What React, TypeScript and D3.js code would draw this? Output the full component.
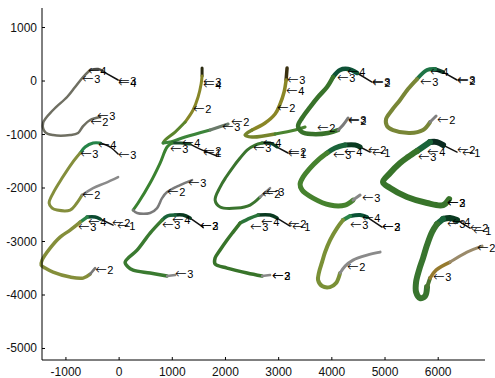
import React from "react";
import * as d3 from "d3";

const xTicks = [-1000, 0, 1000, 2000, 3000, 4000, 5000, 6000];
const yTicks = [1000, 0, -1000, -2000, -3000, -4000, -5000];

const curve1 = [[-19,19],[-282,168],[-395,224],[-545,206],[-677,75],[-827,-112],[-978,-299],[-1241,-542],[-1429,-785],[-1391,-954],[-1241,-1010],[-921,-1010],[-771,-972],[-677,-842],[-545,-729],[-357,-673]];
const curve2 = [[1560,243],[1560,94],[1542,-56],[1485,-299],[1391,-542],[1241,-767],[1053,-954],[865,-1103],[827,-1159],[959,-1141],[1241,-1047],[1711,-916],[2049,-804]];
const curve3 = [[3158,243],[3140,19],[3102,-206],[3027,-430],[2933,-617],[2745,-785],[2500,-916],[2369,-1010],[2500,-1047],[2933,-991],[3309,-916],[3497,-860]];
const curve4 = [[4756,-19],[4474,150],[4305,224],[4155,206],[4023,75],[3910,-112],[3741,-299],[3591,-486],[3440,-692],[3365,-842],[3440,-954],[3628,-991],[3929,-972],[4117,-916],[4211,-823],[4305,-692]];
const curve5 = [[6354,19],[6091,168],[5941,224],[5790,206],[5602,37],[5433,-150],[5283,-355],[5132,-542],[5020,-711],[5038,-842],[5151,-916],[5471,-972],[5715,-916],[5847,-767],[5960,-655]];
const curve6 = [[-19,-1365],[-169,-1234],[-357,-1159],[-489,-1159],[-639,-1234],[-733,-1346],[-884,-1533],[-1072,-1814],[-1241,-2094],[-1316,-2281],[-1260,-2375],[-1166,-2412],[-921,-2412],[-808,-2300],[-696,-2132],[-489,-2001],[-263,-1907],[-19,-1795]];
const curve7 = [[1842,-1402],[1523,-1272],[1335,-1178],[1147,-1159],[996,-1159],[902,-1234],[771,-1533],[583,-1907],[357,-2281],[263,-2412],[338,-2468],[583,-2468],[714,-2375],[808,-2188],[902,-2076],[1147,-1945],[1372,-1851]];
const curve8 = [[3177,-1346],[2970,-1234],[2839,-1159],[2688,-1159],[2557,-1197],[2406,-1290],[2275,-1440],[2143,-1608],[2012,-1795],[1899,-1982],[1805,-2225],[1899,-2356],[2218,-2375],[2463,-2319],[2651,-2169],[2839,-2001]];
const curve9 = [[4719,-1328],[4531,-1234],[4437,-1197],[4249,-1197],[4061,-1253],[3910,-1346],[3741,-1477],[3591,-1627],[3459,-1795],[3403,-1926],[3440,-2038],[3647,-2188],[3967,-2319],[4249,-2319],[4399,-2225],[4531,-2132]];
const curve10 = [[6354,-1328],[6091,-1197],[5978,-1141],[5847,-1141],[5602,-1309],[5433,-1421],[5283,-1533],[5095,-1720],[4963,-1889],[5095,-2001],[5414,-2169],[5790,-2281],[6091,-2319],[6204,-2207]];
const curve11 = [[-113,-2693],[-357,-2580],[-451,-2543],[-602,-2543],[-733,-2637],[-921,-2787],[-1109,-2917],[-1297,-3123],[-1448,-3347],[-1466,-3440],[-1391,-3497],[-1241,-3572],[-921,-3665],[-677,-3684],[-545,-3609],[-451,-3497]];
const curve12 = [[1579,-2730],[1335,-2562],[1203,-2506],[1053,-2506],[902,-2525],[808,-2600],[583,-2842],[338,-3160],[169,-3310],[113,-3385],[169,-3478],[263,-3534],[583,-3590],[902,-3646],[1053,-3628]];
const curve13 = [[3215,-2711],[2970,-2562],[2839,-2506],[2613,-2506],[2463,-2562],[2275,-2655],[2143,-2824],[2030,-2973],[1899,-3160],[1805,-3310],[1805,-3422],[2030,-3497],[2406,-3590],[2688,-3646],[2839,-3628]];
const curve14 = [[4944,-2730],[4662,-2543],[4531,-2506],[4343,-2525],[4211,-2600],[4098,-2749],[3967,-2973],[3873,-3198],[3816,-3385],[3760,-3572],[3741,-3721],[3816,-3833],[3967,-3852],[4080,-3777],[4155,-3590],[4249,-3460],[4399,-3347],[4662,-3254],[4907,-3198]];
const curve15 = [[6599,-2749],[6354,-2600],[6223,-2562],[6091,-2580],[5978,-2674],[5884,-2824],[5790,-3066],[5715,-3310],[5640,-3534],[5584,-3759],[5584,-3946],[5659,-4058],[5753,-4021],[5790,-3852],[5847,-3684],[5960,-3534],[6223,-3385],[6542,-3198],[6824,-3085]];

const labels1 = [[-19,0,"3"],[-19,-37,"4"],[-583,187,"4"],[-696,37,"3"],[-545,-767,"2"],[-414,-655,"3"]];
const labels2 = [[1579,-19,"3"],[1579,-75,"4"],[1391,-524,"2"],[1936,-860,"3"],[2106,-767,"2"]];
const labels3 = [[3158,19,"3"],[3140,-187,"4"],[2970,-505,"2"]];
const labels4 = [[4098,56,"3"],[4286,168,"4"],[4756,-19,"3"],[4756,-37,"2"],[3722,-879,"2"],[4305,-729,"3"],[4305,-748,"2"]];
const labels5 = [[5659,-19,"3"],[5847,168,"4"],[6354,19,"3"],[6354,0,"2"],[5978,-729,"2"]];
const labels6 = [[-733,-1365,"3"],[-395,-1197,"4"],[-19,-1384,"3"],[-696,-2132,"2"]];
const labels7 = [[959,-1272,"3"],[1184,-1159,"4"],[1579,-1309,"2"],[1579,-1346,"1"],[902,-2076,"2"],[1297,-1907,"3"]];
const labels8 = [[2519,-1253,"3"],[2707,-1159,"4"],[3177,-1328,"2"],[3177,-1365,"1"],[2688,-2113,"2"],[2764,-2076,"3"]];
const labels9 = [[4023,-1384,"3"],[4230,-1328,"4"],[4681,-1290,"2"],[4756,-1346,"1"],[4568,-2188,"3"]];
const labels10 = [[5621,-1421,"3"],[5790,-1328,"4"],[6354,-1290,"2"],[6448,-1346,"1"],[6166,-2281,"3"],[6166,-2281,"2"]];
const labels11 = [[-771,-2730,"3"],[-583,-2637,"4"],[-132,-2655,"2"],[-38,-2711,"1"],[-451,-3534,"2"]];
const labels12 = [[808,-2693,"3"],[996,-2600,"4"],[1523,-2711,"3"],[1523,-2711,"2"],[1053,-3609,"3"]];
const labels13 = [[2463,-2730,"3"],[2670,-2637,"4"],[3177,-2674,"2"],[3252,-2730,"1"],[2876,-3646,"3"],[2876,-3646,"2"]];
const labels14 = [[4343,-2693,"3"],[4568,-2562,"4"],[4944,-2730,"3"],[4944,-2730,"2"],[4286,-3478,"2"]];
const labels15 = [[6166,-2674,"3"],[6260,-2637,"4"],[6599,-2749,"2"],[6655,-2805,"1"],[5903,-3665,"3"],[6730,-3123,"2"]];

const curves = [curve1, curve2, curve3, curve4, curve5, curve6, curve7, curve8, curve9, curve10, curve11, curve12, curve13, curve14, curve15];
const labels = [labels1, labels2, labels3, labels4, labels5, labels6, labels7, labels8, labels9, labels10, labels11, labels12, labels13, labels14, labels15];

// segment styles: [fromIndex, toIndex, color, width]
const segStyles: [number, number, string, number][][] = [
  [[0,1,"#111",1.5],[1,3,"#4a4a44",2.5],[3,15,"#6f6f62",2.5]],
  [[0,1,"#2a2a10",3],[1,5,"#878628",3],[5,8,"#5a842c",3],[8,11,"#3c843a",3],[11,12,"#6a7a6a",3]],
  [[0,1,"#3a3010",3.5],[1,6,"#8a8626",3.5],[6,9,"#76842c",3.5],[9,11,"#4a8430",3]],
  [[0,1,"#111",1.5],[1,4,"#0e5236",4.5],[4,13,"#38722a",4.5],[13,15,"#7a7a7a",3]],
  [[0,1,"#111",1.5],[1,2,"#0e3a2a",4],[2,4,"#1e7446",4],[4,13,"#788636",4],[13,14,"#808080",3]],
  [[0,2,"#111",1.5],[2,5,"#258448",3],[5,14,"#848e3c",3],[14,17,"#8a8a8a",2.5]],
  [[0,2,"#111",1.5],[2,4,"#1a4a2a",3],[4,9,"#3a8230",3],[9,16,"#7a7a7a",2.5]],
  [[0,1,"#111",1.5],[1,3,"#0a3a20",3],[3,14,"#3a742e",3],[14,15,"#888",2.5]],
  [[0,1,"#111",1.5],[1,3,"#0a3a20",5],[3,5,"#1a643a",5],[5,14,"#46822e",5],[14,15,"#888",3]],
  [[0,1,"#111",1.5],[1,3,"#0a2a20",6],[3,4,"#1a643a",6],[4,13,"#38742a",6]],
  [[0,1,"#111",1.5],[1,3,"#0a4a30",3.5],[3,4,"#2a8448",3.5],[4,14,"#848e3a",3.5],[14,15,"#777",2.5]],
  [[0,1,"#111",1.5],[1,3,"#0a3a20",3.5],[3,5,"#1a643a",3.5],[5,13,"#3a7a30",3.5],[13,14,"#888",2.5]],
  [[0,1,"#111",1.5],[1,3,"#0a3a20",3.5],[3,5,"#2a743a",3.5],[5,13,"#38742a",3.5],[13,14,"#888",2.5]],
  [[0,1,"#111",1.5],[1,3,"#0a5236",4],[3,4,"#2a8448",4],[4,14,"#7a9036",4],[14,18,"#8a8a8a",3]],
  [[0,1,"#111",1.5],[1,3,"#0a3a20",6],[3,4,"#1a643a",6],[4,13,"#38742e",6],[13,14,"#4a7430",4],[14,16,"#967a2e",3.5],[16,18,"#9a8a6a",3]],
];

const W = 495;
const H = 378;
const font = "'Liberation Sans', Arial, Helvetica, sans-serif";

export default function App() {
  const xs = d3.scaleLinear().domain([-1450, 6880]).range([42, 485]);
  const ys = d3.scaleLinear().domain([1365, -5215]).range([8, 360]);
  const line = d3
    .line<number[]>()
    .x((d) => xs(d[0]))
    .y((d) => ys(d[1]))
    .curve(d3.curveCatmullRom.alpha(0.5));

  return (
    <svg
      width={W}
      height={H}
      style={{ position: "absolute", left: 0, top: 0, background: "#fff" }}
      fontFamily={font}
    >
      <rect x={0} y={0} width={W} height={H} fill="#fff" />
      {curves.map((pts, i) =>
        segStyles[i].map(([a, b, color, w], j) => (
          <path
            key={`c${i}-${j}`}
            d={line(pts.slice(a, b + 1) as number[][]) || ""}
            fill="none"
            stroke={color}
            strokeWidth={w}
            strokeLinecap="round"
            strokeLinejoin="round"
          />
        ))
      )}
      {labels.map((ls, i) =>
        ls.map((l, j) => (
          <text
            key={`l${i}-${j}`}
            x={xs(l[0] as number)}
            y={ys(l[1] as number) + 4}
            fontSize={11}
            fill="#000"
          >
            <tspan fontFamily="'DejaVu Sans', sans-serif" fontSize={14} fontWeight={300}>{"\u2190"}</tspan>
            <tspan dx={0.5}>{l[2] as string}</tspan>
          </text>
        ))
      )}
      {/* axes */}
      <line x1={42} x2={42} y1={ys(1365)} y2={ys(-5215)} stroke="#000" strokeWidth={1} />
      <line x1={xs(-1450)} x2={xs(6880)} y1={360} y2={360} stroke="#000" strokeWidth={1} />
      {yTicks.map((t) => (
        <g key={`yt${t}`}>
          <line x1={42} x2={45} y1={ys(t)} y2={ys(t)} stroke="#000" />
          <text x={37} y={ys(t)} fontSize={12} textAnchor="end" dominantBaseline="central" fill="#111">
            {t}
          </text>
        </g>
      ))}
      {xTicks.map((t) => (
        <g key={`xt${t}`}>
          <line x1={xs(t)} x2={xs(t)} y1={360} y2={357} stroke="#000" />
          <text x={xs(t)} y={376} fontSize={12} textAnchor="middle" fill="#111">
            {t}
          </text>
        </g>
      ))}
    </svg>
  );
}
